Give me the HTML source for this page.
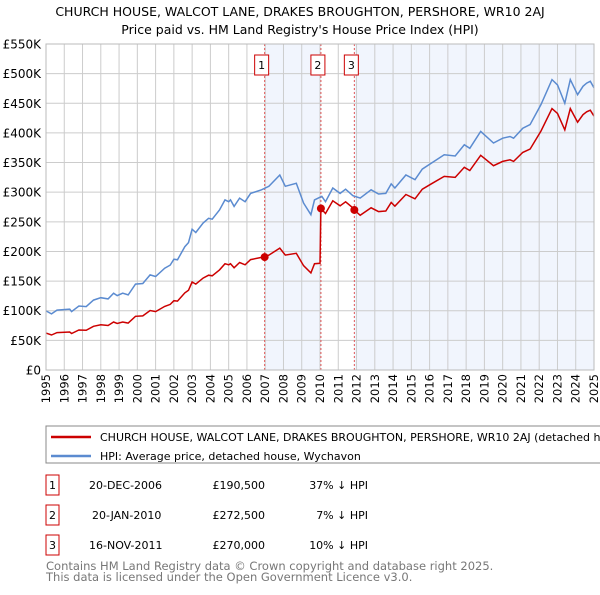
<!DOCTYPE html>
<html><head><meta charset="utf-8"><style>
body{margin:0;background:#fff;font-family:"Liberation Sans","DejaVu Sans",sans-serif;}
svg text{font-family:"DejaVu Sans","Liberation Sans",sans-serif;}
</style></head><body>
<svg id="c" width="600" height="590" xmlns="http://www.w3.org/2000/svg">
<text x="300" y="16" text-anchor="middle" font-size="12.5" fill="#000">CHURCH HOUSE, WALCOT LANE, DRAKES BROUGHTON, PERSHORE, WR10 2AJ</text>
<text x="300" y="34" text-anchor="middle" font-size="12.5" fill="#000">Price paid vs. HM Land Registry's House Price Index (HPI)</text>
<g id="plot"></g>
<g>
<rect x="46" y="426" width="560" height="37" fill="#fff" stroke="#888"/>
<line x1="51" y1="437" x2="91" y2="437" stroke="#cc0000" stroke-width="2.5"/>
<text x="100" y="441" font-size="11">CHURCH HOUSE, WALCOT LANE, DRAKES BROUGHTON, PERSHORE, WR10 2AJ (detached house)</text>
<line x1="51" y1="456" x2="91" y2="456" stroke="#5b8bd0" stroke-width="2.5"/>
<text x="100" y="460" font-size="11">HPI: Average price, detached house, Wychavon</text>
</g>
<g id="tbl" font-size="11"></g>
<text x="46" y="570" font-size="11.5" fill="#777">Contains HM Land Registry data © Crown copyright and database right 2025.</text>
<text x="46" y="581" font-size="11.5" fill="#777">This data is licensed under the Open Government Licence v3.0.</text>
</svg>
<script>
const hpiYears=[1995.0,1995.3,1995.6,1996.3,1996.4,1996.8,1997.2,1997.6,1998.0,1998.4,1998.7,1998.9,1999.2,1999.5,1999.9,2000.3,2000.7,2001.0,2001.5,2001.8,2002.0,2002.2,2002.6,2002.8,2003.0,2003.2,2003.6,2003.9,2004.1,2004.5,2004.8,2005.0,2005.1,2005.3,2005.6,2005.9,2006.2,2006.8,2007.2,2007.8,2008.1,2008.7,2009.1,2009.5,2009.7,2010.1,2010.3,2010.7,2011.1,2011.4,2011.8,2012.2,2012.8,2013.2,2013.6,2013.9,2014.1,2014.7,2015.2,2015.6,2016.1,2016.8,2017.4,2017.9,2018.2,2018.8,2019.5,2020.0,2020.4,2020.6,2021.1,2021.5,2022.1,2022.7,2023.0,2023.4,2023.7,2024.1,2024.4,2024.6,2024.8,2025.0];
const hpiValues=[99.7,94.6,101,102.5,98.5,108,107,118,122,120,129.5,125.6,129.5,126.7,145,146,160.5,157.7,171.7,177,187,186,208,215,237.6,232,248,256,254.5,270,287,284,287,276,290,284,298,304,310,329,310,315,281.5,262,287,293,284,307,298,305,294,290,304,297,298,314,307,329,321,339,349,363,361,380,374,402.6,383,391,394,391,408,414,448,490,481,450,490,464.5,478.6,484,487,476];
const priceYears=[1995.0,1995.3,1995.6,1996.3,1996.4,1996.8,1997.2,1997.6,1998.0,1998.4,1998.7,1998.9,1999.2,1999.5,1999.9,2000.3,2000.7,2001.0,2001.5,2001.8,2002.0,2002.2,2002.6,2002.8,2003.0,2003.2,2003.6,2003.9,2004.1,2004.5,2004.8,2005.0,2005.1,2005.3,2005.6,2005.9,2006.2,2006.8,2006.97,2007.2,2007.8,2008.1,2008.7,2009.1,2009.5,2009.7,2010.0,2010.05,2010.3,2010.7,2011.1,2011.4,2011.8,2011.88,2012.2,2012.8,2013.2,2013.6,2013.9,2014.1,2014.7,2015.2,2015.6,2016.1,2016.8,2017.4,2017.9,2018.2,2018.8,2019.5,2020.0,2020.4,2020.6,2021.1,2021.5,2022.1,2022.7,2023.0,2023.4,2023.7,2024.1,2024.4,2024.6,2024.8,2025.0];
const priceValues=[62.3,59.1,63.1,64.1,61.6,67.5,66.9,73.8,76.3,75,80.9,78.5,80.9,79.2,90.6,91.3,100.3,98.6,107.3,110.6,116.9,116.3,130,134.4,148.5,145,155,160,159,168.8,179.4,177.5,179.4,172.5,181.3,177.5,186.3,190,190.5,193.8,205.6,193.8,196.9,176,163.8,179.4,180,272.5,264,285.5,277,283.7,273.4,270,261,273.6,267.3,268.2,282.6,276.3,296.1,288.9,305.1,314.1,326.7,324.9,342,336.6,362.3,344.7,351.9,354.6,351.9,367.2,372.6,403.2,441,432.9,405,441,418,430.7,435.6,438.3,428.4];
const saleLabels=["1","2","3"];
const saleYears=[2006.97,2010.05,2011.88];
const saleValues=[190.5,272.5,270];
const saleDates=["20-DEC-2006","20-JAN-2010","16-NOV-2011"];
const salePrices=["£190,500","£272,500","£270,000"];
const saleDiffs=["37% ↓ HPI","7% ↓ HPI","10% ↓ HPI"];
const yTicks=[0,50,100,150,200,250,300,350,400,450,500,550];
const yTickLabels=["£0","£50K","£100K","£150K","£200K","£250K","£300K","£350K","£400K","£450K","£500K","£550K"];
const xTicks=[1995,1996,1997,1998,1999,2000,2001,2002,2003,2004,2005,2006,2007,2008,2009,2010,2011,2012,2013,2014,2015,2016,2017,2018,2019,2020,2021,2022,2023,2024,2025];

const NS="http://www.w3.org/2000/svg";
const L=46,R=594,T=44,B=370;
const xs=y=>L+(y-1995)/30*(R-L);
const ys=v=>B-v/550*(B-T);
const g=document.getElementById('plot');
function mk(tag,attrs,parent){const e=document.createElementNS(NS,tag);for(const k in attrs)e.setAttribute(k,attrs[k]);(parent||g).appendChild(e);return e;}
let r=mk('rect',{x:L,y:T,width:R-L,height:B-T,fill:'#fff'});


let s1=mk('rect',{x:xs(saleYears[0]),y:T,width:xs(saleYears[1])-xs(saleYears[0]),height:B-T,fill:'#eef3fc',opacity:0.8});


let s2=mk('rect',{x:xs(saleYears[2]),y:T,width:R-xs(saleYears[2]),height:B-T,fill:'#eef3fc',opacity:0.8});


xTicks.forEach(t=>{
 let l=mk('line',{x1:xs(t),x2:xs(t),y1:T,y2:B,stroke:'#ccc','stroke-width':1});
 
 
 let tx=mk('text',{x:0,y:0,'font-size':11.5,'text-anchor':'end',transform:`translate(${xs(t)+4},${B+4}) rotate(-90)`});
 tx.textContent=t;
 
 
});
yTicks.forEach((t,i)=>{
 let l=mk('line',{x1:L,x2:R,y1:ys(t),y2:ys(t),stroke:'#ccc','stroke-width':1});
 
 
 let tx=mk('text',{x:L-5,y:ys(t)+4.5,'font-size':12,'text-anchor':'end'});
 tx.textContent=yTickLabels[i];
 
 
});
saleYears.forEach((y,i)=>{
 let l=mk('line',{x1:xs(y),x2:xs(y),y1:T,y2:B,stroke:'#e05555','stroke-width':1,'stroke-dasharray':'2,2'});
 
 
 let b=mk('rect',{x:xs(y)-10,y:55,width:14,height:20,fill:'#fff',stroke:'#cc0000'});
 
 
 let tx=mk('text',{x:xs(y)-3,y:69,'font-size':11,'text-anchor':'middle'});
 tx.textContent=saleLabels[i];
 
 
});
const pts=(xa,va)=>xa.map((y,i)=>xs(y).toFixed(1)+','+ys(va[i]).toFixed(1)).join(' ');
let hl=mk('polyline',{points:pts(hpiYears,hpiValues),fill:'none',stroke:'#5b8bd0','stroke-width':1.5});


let pl=mk('polyline',{points:pts(priceYears,priceValues),fill:'none',stroke:'#cc0000','stroke-width':1.5});


saleYears.forEach((y,i)=>{
 let c=mk('circle',{cx:xs(y),cy:ys(saleValues[i]),r:4,fill:'#cc0000'});
 
 
});
mk('rect',{x:L,y:T,width:R-L,height:B-T,fill:'none',stroke:'#bbb'});
const tb=document.getElementById('tbl');
saleLabels.forEach((lab,i)=>{
 const y=475+i*30;
 let b=mk('rect',{x:46,y:y,width:13,height:20,fill:'#fff',stroke:'#cc0000'},tb);
 
 
 const cells=[[52.5,lab,'middle'],[i==1?92:89,saleDates[i],'start'],[265,salePrices[i],'end'],[368,saleDiffs[i],'end']];
 cells.forEach(c=>{
  let t=mk('text',{x:c[0],y:y+14,'text-anchor':c[2]},tb);
  t.textContent=c[1];
  
  
 });
});
</script>
</body></html>
